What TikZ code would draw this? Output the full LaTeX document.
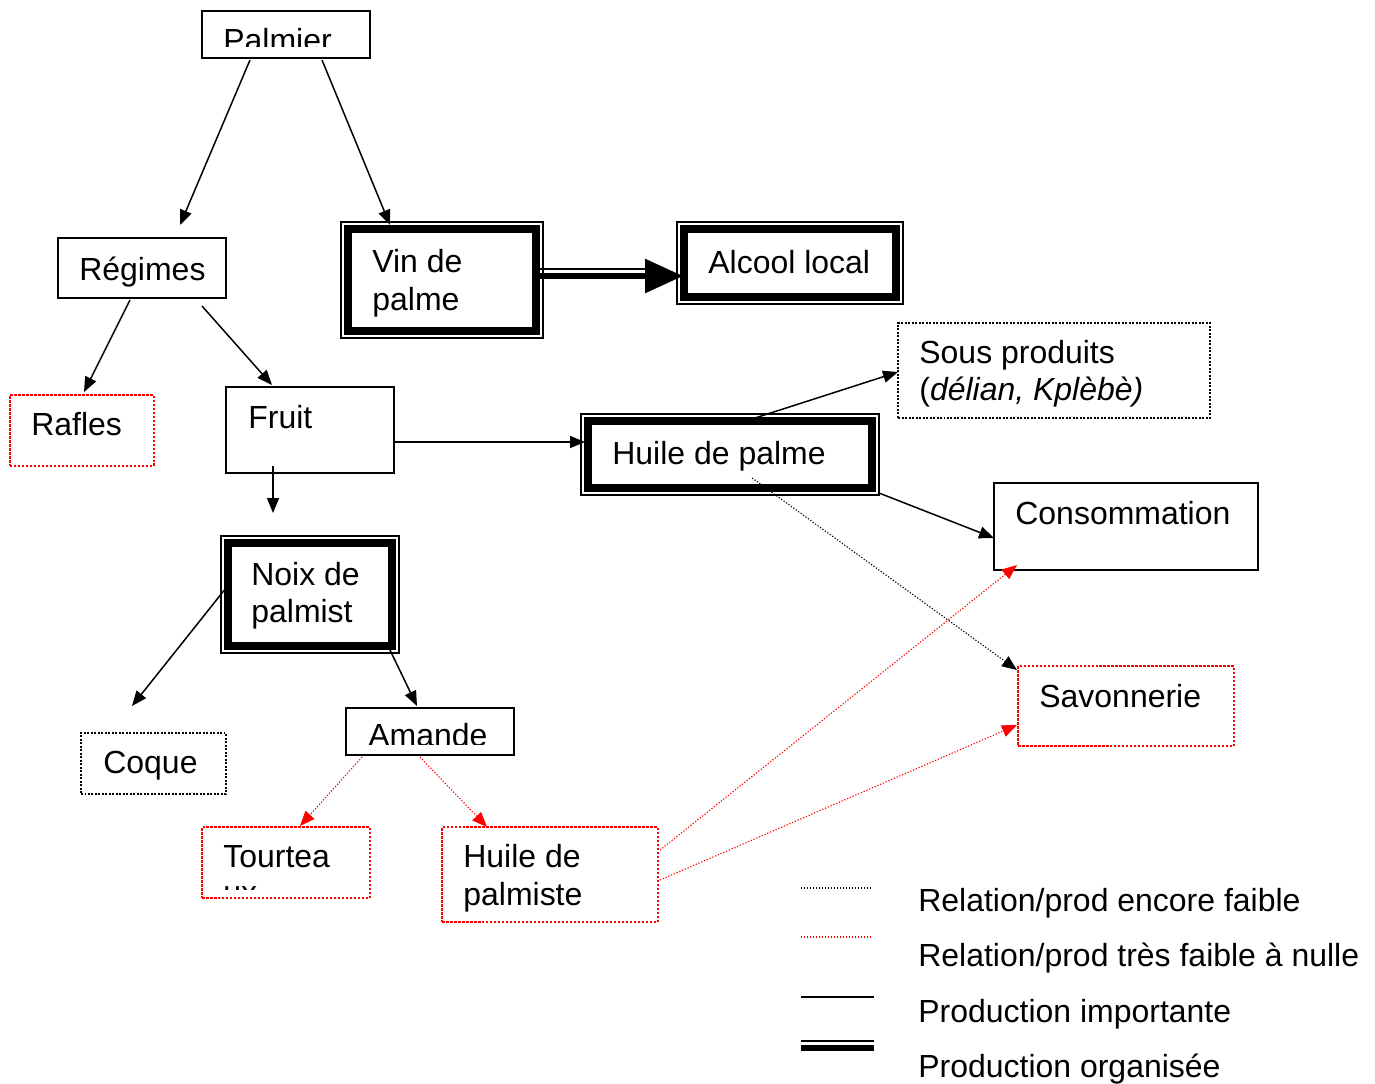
\documentclass[tikz,border=0pt]{standalone}
\usepackage{fontspec}
\setmainfont{Liberation Sans}
\usetikzlibrary{arrows.meta, calc}

\begin{document}
\begin{tikzpicture}[x=0.02cm, y=-0.02cm,
  every node/.style={font=\fontsize{18.2}{21.6}\selectfont},
  box/.style={draw, line width=0.03cm, inner sep=0pt, outer sep=0pt, anchor=north west},
  thinbox/.style={box, line width=0.024cm},
  rim/.style={line width=0.16cm},
  redbox/.style={box, draw=red, line width=0.045cm, dash pattern=on 0.05cm off 0.03cm},
  dotbox/.style={box, line width=0.04cm, dash pattern=on 0.04cm off 0.03cm},
  lbl/.style={anchor=base west, inner sep=0pt},
  arr/.style={line width=0.03cm, -{Triangle[length=0.3cm, width=0.24cm]}},
  dotarr/.style={line width=0.022cm, dash pattern=on 0.025cm off 0.035cm, -{Triangle[length=0.3cm, width=0.24cm]}},
  redarr/.style={dotarr, red}]
  \useasboundingbox (0,0) rectangle (1375,1083);

  % boxes
  \node[box, minimum width=3.36cm, minimum height=0.94cm] (palmier) at (202,11) {};
  \node[box, minimum width=3.36cm, minimum height=1.2cm] (regimes) at (58,238) {};
  \node[thinbox, minimum width=4.04cm, minimum height=2.32cm] (vin) at (341,222) {};
  \node[thinbox, minimum width=4.52cm, minimum height=1.64cm] (alcool) at (677,222) {};
  \node[dotbox, minimum width=6.24cm, minimum height=1.9cm] (sousprod) at (898,323) {};
  \node[redbox, minimum width=2.88cm, minimum height=1.42cm] (rafles) at (10,395) {};
  \node[box, minimum width=3.36cm, minimum height=1.72cm] (fruit) at (226,387) {};
  \node[thinbox, minimum width=5.96cm, minimum height=1.62cm] (huile) at (581,414) {};
  \node[box, minimum width=5.28cm, minimum height=1.74cm] (conso) at (994,483) {};
  \node[thinbox, minimum width=3.56cm, minimum height=2.34cm] (noix) at (221,536) {};
  \node[redbox, minimum width=4.32cm, minimum height=1.6cm] (savon) at (1018,666) {};
  \node[dotbox, minimum width=2.9cm, minimum height=1.22cm] (coque) at (81,733) {};
  \node[box, minimum width=3.36cm, minimum height=0.94cm] (amande) at (346,708) {};
  \node[redbox, minimum width=3.36cm, minimum height=1.42cm] (tourteau) at (202,827) {};
  \node[redbox, minimum width=4.32cm, minimum height=1.9cm] (palmiste) at (442,827) {};

  % thick inner rims (production organisee)
  \draw[rim] ($(vin.north west)+(7,7)$) rectangle ($(vin.south east)+(-7,-7)$);
  \draw[rim] ($(alcool.north west)+(7,7)$) rectangle ($(alcool.south east)+(-7,-7)$);
  \draw[rim] ($(huile.north west)+(7,7)$) rectangle ($(huile.south east)+(-7,-7)$);
  \draw[rim] ($(noix.north west)+(7,7)$) rectangle ($(noix.south east)+(-7,-7)$);

  % labels
  \begin{scope}
    \clip (palmier.north west) rectangle ($(palmier.south east)+(0,-11)$);
    \node[lbl] (palmier-t) at (223,51) {Palmier};
  \end{scope}
  \node[lbl] (regimes-t) at (79,280) {Régimes};
  \node[lbl] (vin-t1) at (372,272) {Vin de};
  \node[lbl] (vin-t2) at (372,310) {palme};
  \node[lbl] (alcool-t) at (708,273) {Alcool local};
  \node[lbl] (sousprod-t1) at (919,363) {Sous produits};
  \node[lbl] (sousprod-t2) at (919,400) {({\itshape délian, Kplèbè)}};
  \node[lbl] (rafles-t) at (31,435) {Rafles};
  \node[lbl] (fruit-t) at (248,428) {Fruit};
  \node[lbl] (huile-t) at (612,464) {Huile de palme};
  \node[lbl] (conso-t) at (1015,524) {Consommation};
  \node[lbl] (noix-t1) at (251,585) {Noix de};
  \node[lbl] (noix-t2) at (251,622) {palmist};
  \node[lbl] (savon-t) at (1039,707) {Savonnerie};
  \node[lbl] (coque-t) at (103,773) {Coque};
  \begin{scope}
    \clip (amande.north west) rectangle ($(amande.south east)+(0,-11)$);
    \node[lbl] (amande-t) at (368,746) {Amande};
  \end{scope}
  \node[lbl] (tourteau-t1) at (223,867) {Tourtea};
  \begin{scope}
    \clip (tourteau.north west) rectangle ($(tourteau.south east)+(0,-9)$);
    \node[lbl] (tourteau-t2) at (223,903) {ux};
  \end{scope}
  \node[lbl] (palmiste-t1) at (463,867) {Huile de};
  \node[lbl] (palmiste-t2) at (463,905) {palmiste};

  % connectors
  \draw[arr] ($(palmier.south west)+(48,2)$) -- ($(regimes.north west)+(122,-13)$);
  \draw[arr] ($(palmier.south west)+(120,2)$) -- ($(vin.north west)+(49,3)$);
  \draw[line width=0.024cm] ($(vin.north east)+(-6,47)$) -- ($(alcool.north west)+(-32,47)$);
  \draw[line width=0.12cm, -{Triangle[length=0.76cm, width=0.66cm]}]
    ($(vin.north east)+(-6,54)$) -- ($(alcool.north west)+(6,54)$);
  \draw[arr] ($(regimes.south west)+(72,2)$) -- ($(rafles.north west)+(74,-3)$);
  \draw[arr] ($(regimes.south west)+(144,8)$) -- ($(fruit.north west)+(46,-2)$);
  \draw[arr] ($(fruit.south west)+(47,-7)$) -- ($(noix.north west)+(52,-23)$);
  \draw[arr] ($(fruit.north east)+(0,55)$) -- ($(huile.north west)+(4,28)$);
  \draw[arr] ($(huile.north west)+(174,4)$) -- ($(sousprod.north west)+(0,49)$);
  \draw[arr] ($(huile.south east)+(0,-2)$) -- ($(conso.north west)+(0,55)$);
  \draw[dotarr] ($(huile.south west)+(171,-17)$) -- ($(savon.north west)+(-1,4)$);
  \draw[arr] ($(noix.north west)+(5,52)$) -- ($(coque.north west)+(51,-27)$);
  \draw[arr] ($(noix.south east)+(-9,-3)$) -- ($(amande.north west)+(71,-2)$);
  \draw[redarr] ($(amande.south west)+(16,2)$) -- ($(tourteau.north west)+(98,-1)$);
  \draw[redarr] ($(amande.south west)+(74,2)$) -- ($(palmiste.north west)+(45,0)$);
  \draw[redarr] ($(palmiste.north east)+(2,23)$) -- ($(conso.south west)+(23,-5)$);
  \draw[redarr] ($(palmiste.north east)+(2,53)$) -- ($(savon.north west)+(-1,59)$);

  % legend
  \draw[line width=0.022cm, dash pattern=on 0.025cm off 0.035cm] (801,888) -- (871,888);
  \draw[red, line width=0.022cm, dash pattern=on 0.025cm off 0.035cm] (801,937) -- (871,937);
  \draw[line width=0.04cm] (801,997) -- (874,997);
  \draw[line width=0.03cm] (801,1041) -- (874,1041);
  \draw[line width=0.12cm] (801,1048) -- (874,1048);
  \node[lbl] (leg1) at (918,911) {Relation/prod encore faible};
  \node[lbl] (leg2) at (918,966) {Relation/prod très faible à nulle};
  \node[lbl] (leg3) at (918,1022) {Production importante};
  \node[lbl] (leg4) at (918,1077) {Production organisée};
\end{tikzpicture}
\end{document}
